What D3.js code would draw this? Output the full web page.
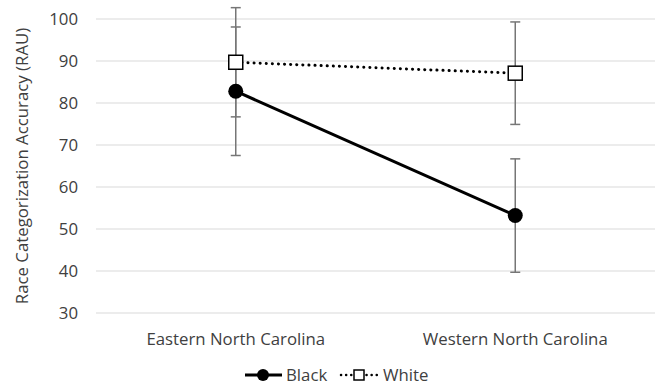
<!DOCTYPE html>
<html>
<head>
<meta charset="utf-8">
<script src="https://cdn.jsdelivr.net/npm/d3@7"></script>
<style>
  body { margin: 0; background: #fff; }
  text { font-family: "Open Sans", "Noto Sans", sans-serif; fill: #404040; }
</style>
</head>
<body>
<div id="chart"></div>
<script>
// chart data
const regions = ["Eastern North Carolina", "Western North Carolina"];
const blackMeans = [82.8, 53.2];
const blackErr = [15.3, 13.5];
const whiteMeans = [89.7, 87.1];
const whiteErr = [13.0, 12.2];
const yTicks = [30, 40, 50, 60, 70, 80, 90, 100];

let width = 660,
	height = 385,
	fontSize = "16.8px";

let svg = d3.select("#chart")
	.append("svg")
		.attr("width", width)
		.attr("height", height);

let x = d3.scaleBand()
	.domain(regions)
	.range([96, 655]);

let y = d3.scaleLinear()
	.domain([30, 100])
	.range([313, 19]);

// gridlines
svg.selectAll(".grid")
	.data(yTicks)
	.enter()
	.append("line")
	.attr("x1", 96)
	.attr("x2", 655)
	.attr("y1", d => y(d))
	.attr("y2", d => y(d))
	.attr("stroke", "#d9d9d9")
	.attr("stroke-width", 1);

// y tick labels
svg.selectAll(".ytick")
	.data(yTicks)
	.enter()
	.append("text")
	.attr("x", 78)
	.attr("y", d => y(d))
	.attr("dy", "0.36em")
	.attr("text-anchor", "end")
	.style("font-size", fontSize)
	.text(d => d);

// x labels
svg.selectAll(".xtick")
	.data(regions)
	.enter()
	.append("text")
	.attr("x", d => x(d) + x.bandwidth() / 2)
	.attr("y", 339)
	.attr("dy", "0.36em")
	.attr("text-anchor", "middle")
	.style("font-size", fontSize)
	.text(d => d);

// y axis title
svg.append("text")
	.attr("transform", "translate(22," + y(65) + ") rotate(-90)")
	.attr("dy", "0.36em")
	.attr("text-anchor", "middle")
	.style("font-size", fontSize)
	.text("Race Categorization Accuracy (RAU)");

let cx = d => x(d) + x.bandwidth() / 2;

let series = [
	{ name: "Black", means: blackMeans, err: blackErr },
	{ name: "White", means: whiteMeans, err: whiteErr }
];

// error bars
series.forEach(function(s) {
	let g = svg.append("g");
	regions.forEach(function(r, i) {
		let lo = y(s.means[i] - s.err[i]),
			hi = y(s.means[i] + s.err[i]);
		g.append("line")
			.attr("x1", cx(r)).attr("x2", cx(r))
			.attr("y1", lo).attr("y2", hi)
			.attr("stroke", "#767676").attr("stroke-width", 1.5);
		[lo, hi].forEach(function(v) {
			g.append("line")
				.attr("x1", cx(r) - 5).attr("x2", cx(r) + 5)
				.attr("y1", v).attr("y2", v)
				.attr("stroke", "#767676").attr("stroke-width", 1.5);
		});
	});
});

let line = d3.line()
	.x((d, i) => cx(regions[i]))
	.y(d => y(d));

// white dotted line
svg.append("path")
	.attr("d", line(whiteMeans))
	.attr("fill", "none")
	.attr("stroke", "#000")
	.attr("stroke-width", 3)
	.attr("stroke-linecap", "round")
	.attr("stroke-dasharray", "0.1,6");

// black solid line
svg.append("path")
	.attr("d", line(blackMeans))
	.attr("fill", "none")
	.attr("stroke", "#000")
	.attr("stroke-width", 3);

// markers
svg.selectAll(".bdot")
	.data(blackMeans)
	.enter()
	.append("circle")
	.attr("cx", (d, i) => cx(regions[i]))
	.attr("cy", d => y(d))
	.attr("r", 7.5)
	.attr("fill", "#000");

svg.selectAll(".wsq")
	.data(whiteMeans)
	.enter()
	.append("rect")
	.attr("x", (d, i) => cx(regions[i]) - 7)
	.attr("y", d => y(d) - 7)
	.attr("width", 14)
	.attr("height", 14)
	.attr("fill", "#fff")
	.attr("stroke", "#000")
	.attr("stroke-width", 1.5);

// legend
let ly = 375;
let leg = svg.append("g");
leg.append("line")
	.attr("x1", 245).attr("x2", 282)
	.attr("y1", ly).attr("y2", ly)
	.attr("stroke", "#000").attr("stroke-width", 3);
leg.append("circle")
	.attr("cx", 263).attr("cy", ly).attr("r", 6)
	.attr("fill", "#000");
leg.append("text")
	.attr("x", 286).attr("y", ly).attr("dy", "0.36em")
	.style("font-size", fontSize)
	.text("Black");

leg.append("line")
	.attr("x1", 341).attr("x2", 378)
	.attr("y1", ly).attr("y2", ly)
	.attr("stroke", "#000").attr("stroke-width", 2.5)
	.attr("stroke-linecap", "round")
	.attr("stroke-dasharray", "0.1,5");
leg.append("rect")
	.attr("x", 354).attr("y", ly - 5).attr("width", 10).attr("height", 10)
	.attr("fill", "#fff").attr("stroke", "#000").attr("stroke-width", 1.5);
leg.append("text")
	.attr("x", 383).attr("y", ly).attr("dy", "0.36em")
	.style("font-size", fontSize)
	.text("White");
</script>
</body>
</html>
